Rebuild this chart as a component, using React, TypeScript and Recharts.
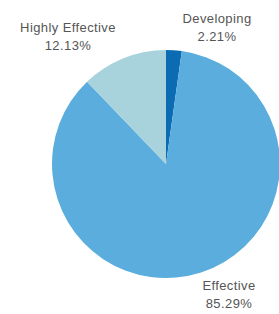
import { PieChart, Pie, Cell } from 'recharts';

const names = ['Developing', 'Effective', 'Highly Effective'];
const shares = [2.21, 85.29, 12.13];
const colors = ['#0b6cb4', '#5aaddc', '#a8d3dd'];

// where each label sits relative to the pie centre
const labelOffsets = [
  { dx: 51, dy: -141 },
  { dx: 63, dy: 126 },
  { dx: -98, dy: -132 },
];

const data = names.map((name, i) => ({ name, value: shares[i] }));

const renderLabel = (props: any) => {
  const { cx, cy, index, name, value } = props;
  const off = labelOffsets[index];
  const x = cx + off.dx;
  const y = cy + off.dy;
  return (
    <text
      x={x}
      y={y}
      textAnchor="middle"
      fill="#555"
      fontSize={13}
      letterSpacing={0.4}
      fontFamily="Liberation Sans, Arial, sans-serif"
    >
      <tspan x={x} dy={0}>{name}</tspan>
      <tspan x={x} dy={18}>{value.toFixed(2)}%</tspan>
    </text>
  );
};

const App = () => {
  return (
    <div style={{ position: 'absolute', left: 0, top: 0, background: '#fff' }}>
      <PieChart width={279} height={314} margin={{ top: 0, right: 0, bottom: 0, left: 0 }}>
        <Pie
          data={data}
          dataKey="value"
          nameKey="name"
          cx={166}
          cy={164}
          outerRadius={114}
          startAngle={90}
          endAngle={-270}
          stroke="none"
          label={renderLabel}
          labelLine={false}
          isAnimationActive={false}
        >
          {data.map((d, i) => (
            <Cell key={d.name} fill={colors[i]} />
          ))}
        </Pie>
      </PieChart>
    </div>
  );
};

export default App;
